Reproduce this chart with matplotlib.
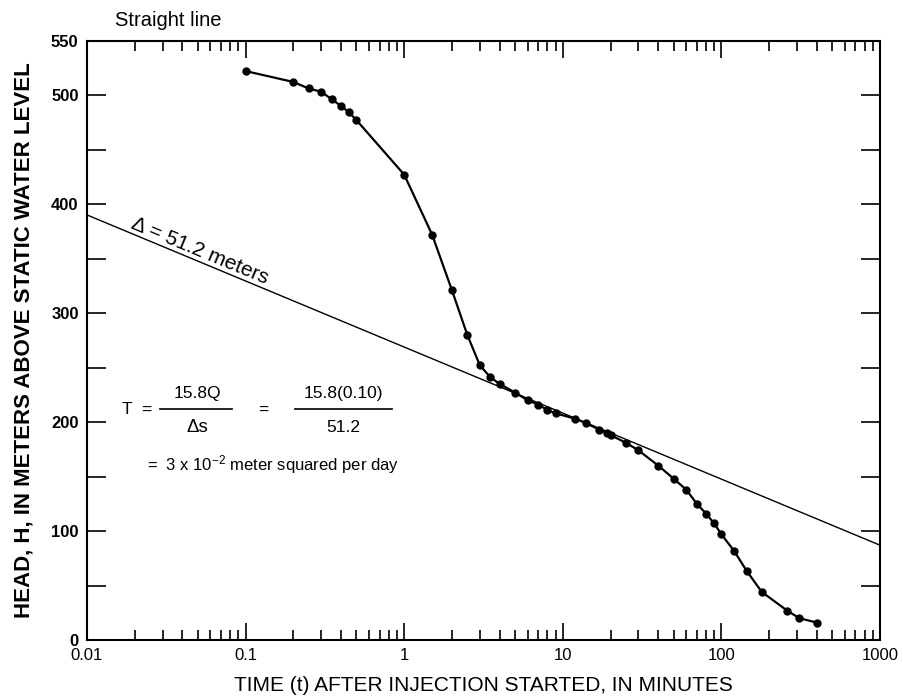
import numpy as np
import matplotlib
matplotlib.use("Agg")
import matplotlib.pyplot as plt
from matplotlib.ticker import LogLocator, NullFormatter

plt.rcParams['font.family'] = ['Liberation Sans', 'DejaVu Sans']
plt.rcParams['mathtext.fontset'] = 'custom'
plt.rcParams['mathtext.rm'] = 'Liberation Sans'
plt.rcParams['mathtext.it'] = 'Liberation Sans'
plt.rcParams['mathtext.bf'] = 'Liberation Sans:bold'

# observed head, minutes after injection started
time_min = [0.1, 0.2, 0.25, 0.3, 0.35, 0.4, 0.45, 0.5, 1.0, 1.5, 2.0, 2.5,
            3.0, 3.5, 4.0, 5.0, 6.0, 7.0, 8.0, 9.0, 12, 14, 17, 19, 20, 25,
            30, 40, 50, 60, 70, 80, 90, 100, 120, 145, 180, 260, 310, 400]
head_m = [522, 512, 506, 503, 496, 490, 484, 477, 427, 372, 321, 280,
          252, 241, 235, 227, 220, 216, 211, 208, 203, 199, 193, 190, 188, 181,
          174, 160, 148, 138, 125, 116, 107, 97, 82, 63, 44, 27, 20, 16]

# fitted straight line (semi-log)
line_t = [0.01, 1000]
line_h = [390, 87]

ytick_vals = [0, 100, 200, 300, 400, 500, 550]
ytick_minor = [50, 150, 250, 350, 450]
xtick_vals = [0.01, 0.1, 1, 10, 100, 1000]
xtick_labels = ['0.01', '0.1', '1', '10', '100', '1000']

fig = plt.figure(figsize=(9.03, 6.99), dpi=100)
ax = fig.add_axes([0.0963, 0.0844, 0.8782, 0.8576])

ax.plot(line_t, line_h, color='black', lw=1.0)
ax.plot(time_min, head_m, color='black', lw=1.6, marker='o', ms=5)

ax.set_xscale('log')
ax.set_xlim(0.01, 1000)
ax.set_ylim(0, 550)

ax.set_xticks(xtick_vals)
ax.set_xticklabels(xtick_labels, fontsize=12)
ax.xaxis.set_minor_locator(LogLocator(base=10, subs=np.arange(2, 10)))
ax.xaxis.set_minor_formatter(NullFormatter())
ax.set_yticks(ytick_vals)
ax.set_yticklabels([str(v) for v in ytick_vals], fontsize=12, fontweight='bold')
ax.set_yticks(ytick_minor, minor=True)

ax.tick_params(axis='x', which='major', direction='in', length=12, width=1.2,
               top=True, bottom=True, pad=6)
ax.tick_params(axis='x', which='minor', direction='in', length=7, width=1.2,
               top=True, bottom=True)
ax.tick_params(axis='y', which='both', direction='in', length=14, width=1.2,
               left=True, right=True, pad=6)
for s in ax.spines.values():
    s.set_linewidth(1.5)

ax.set_xlabel('TIME (t) AFTER INJECTION STARTED, IN MINUTES', fontsize=15, labelpad=9)
ax.set_ylabel('HEAD, H, IN METERS ABOVE STATIC WATER LEVEL', fontsize=16,
              fontweight='bold', labelpad=12)

fig.text(0.127, 0.97, 'Straight line', fontsize=14.5, ha='left', va='center')

# annotation along the straight line
ax.text(0.0187, 378, 'Δ = 51.2 meters', fontsize=15, rotation=-22.5,
        rotation_mode='anchor', ha='left', va='baseline')

# formula for transmissivity
tr = ax.transAxes
fs = 12.5
ax.text(0.0504, 0.3837, 'T', fontsize=fs, ha='center', va='center', transform=tr)
ax.text(0.0744, 0.3837, '=', fontsize=fs, ha='center', va='center', transform=tr)
ax.text(0.1387, 0.412, '15.8Q', fontsize=fs, ha='center', va='center', transform=tr)
ax.plot([0.092, 0.183], [0.3853, 0.3853], color='black', lw=1.2, transform=tr)
ax.text(0.1387, 0.3553, 'Δs', fontsize=fs + 1, ha='center', va='center', transform=tr)
ax.text(0.222, 0.3837, '=', fontsize=fs, ha='center', va='center', transform=tr)
ax.text(0.3228, 0.412, '15.8(0.10)', fontsize=fs, ha='center', va='center', transform=tr)
ax.plot([0.2623, 0.3846], [0.3853, 0.3853], color='black', lw=1.2, transform=tr)
ax.text(0.3228, 0.3553, '51.2', fontsize=fs, ha='center', va='center', transform=tr)
ax.text(0.0757, 0.2930, r'=  3 x 10$^{-2}$ meter squared per day', fontsize=12,
        ha='left', va='center', transform=tr)

fig.savefig('out.png', dpi=100)
